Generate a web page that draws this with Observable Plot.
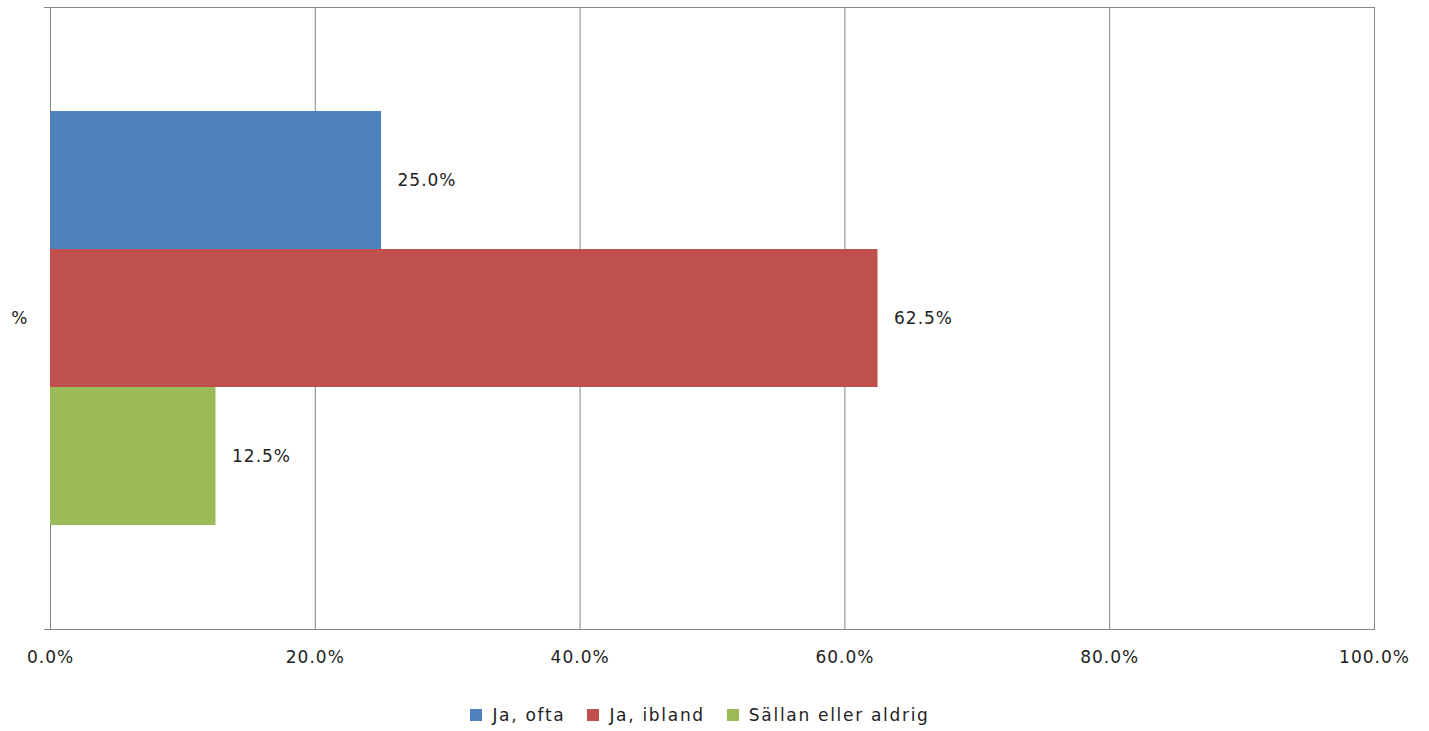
<!DOCTYPE html>
<html>
<head>
<meta charset="utf-8">
<script src="https://cdn.jsdelivr.net/npm/d3@7"></script>
<script src="https://cdn.jsdelivr.net/npm/@observablehq/plot@0.6"></script>
<style>
  html, body { margin: 0; padding: 0; background: #fff; }
  #chart svg { display: block; }
  .legend { display: flex; justify-content: center; align-items: center; height: 49px; padding-right: 29px;
    font-family: "DejaVu Sans", sans-serif; font-size: 17px; letter-spacing: 1.7px; color: #222; }
  .legend .item { display: flex; align-items: center; margin: 0 11px; }
  .legend .sw { width: 12px; height: 12px; margin-right: 10px; }
</style>
</head>
<body>
<div id="chart"></div>
<script>
const categories = ["%"];
const series = ["Ja, ofta", "Ja, ibland", "Sällan eller aldrig"];
const values = [0.25, 0.625, 0.125];
const colors = ["#4F81BD", "#C0504D", "#9BBB59"];
const xTicks = [0, 0.2, 0.4, 0.6, 0.8, 1.0];

const fmt = d3.format(".1%");
const data = series.map((s, i) => ({category: categories[0], series: s, value: values[i]}));
const gridColor = "#868686";

const plot = Plot.plot({
  width: 1429,
  height: 690,
  marginLeft: 50,
  marginRight: 55,
  marginTop: 7,
  marginBottom: 61,
  style: {fontFamily: "DejaVu Sans, sans-serif", fontSize: "17px", letterSpacing: "1px", color: "#222", background: "#fff"},
  x: {domain: [0, 1]},
  fy: {domain: categories, padding: 0},
  y: {domain: series, paddingInner: 0, paddingOuter: 0.743},
  color: {domain: series, range: colors},
  marks: [
    Plot.gridX(xTicks, {stroke: gridColor, strokeOpacity: 1, strokeWidth: 1}),
    Plot.barX(data, {fy: "category", y: "series", x: "value", fill: "series"}),
    Plot.text(data, {fy: "category", y: "series", x: "value", text: d => fmt(d.value), dx: 16, textAnchor: "start", fill: "#222"}),
    Plot.axisX(xTicks, {tickSize: 0, tickPadding: 21, tickFormat: fmt, label: null, fill: "#222"}),
    Plot.axisY({ticks: [], label: null}),
    Plot.axisFy({anchor: "left", tickSize: 0, tickPadding: 22, label: null, fill: "#222"}),
    Plot.frame({anchor: "top", insetLeft: -6, stroke: gridColor}),
    Plot.frame({anchor: "bottom", insetLeft: -6, stroke: gridColor})
  ]
});
document.getElementById("chart").appendChild(plot);

const legend = document.createElement("div");
legend.className = "legend";
series.forEach((s, i) => {
  const item = document.createElement("div");
  item.className = "item";
  const sw = document.createElement("div");
  sw.className = "sw";
  sw.style.background = colors[i];
  const t = document.createElement("span");
  t.textContent = s;
  item.appendChild(sw);
  item.appendChild(t);
  legend.appendChild(item);
});
document.body.appendChild(legend);
</script>
</body>
</html>
